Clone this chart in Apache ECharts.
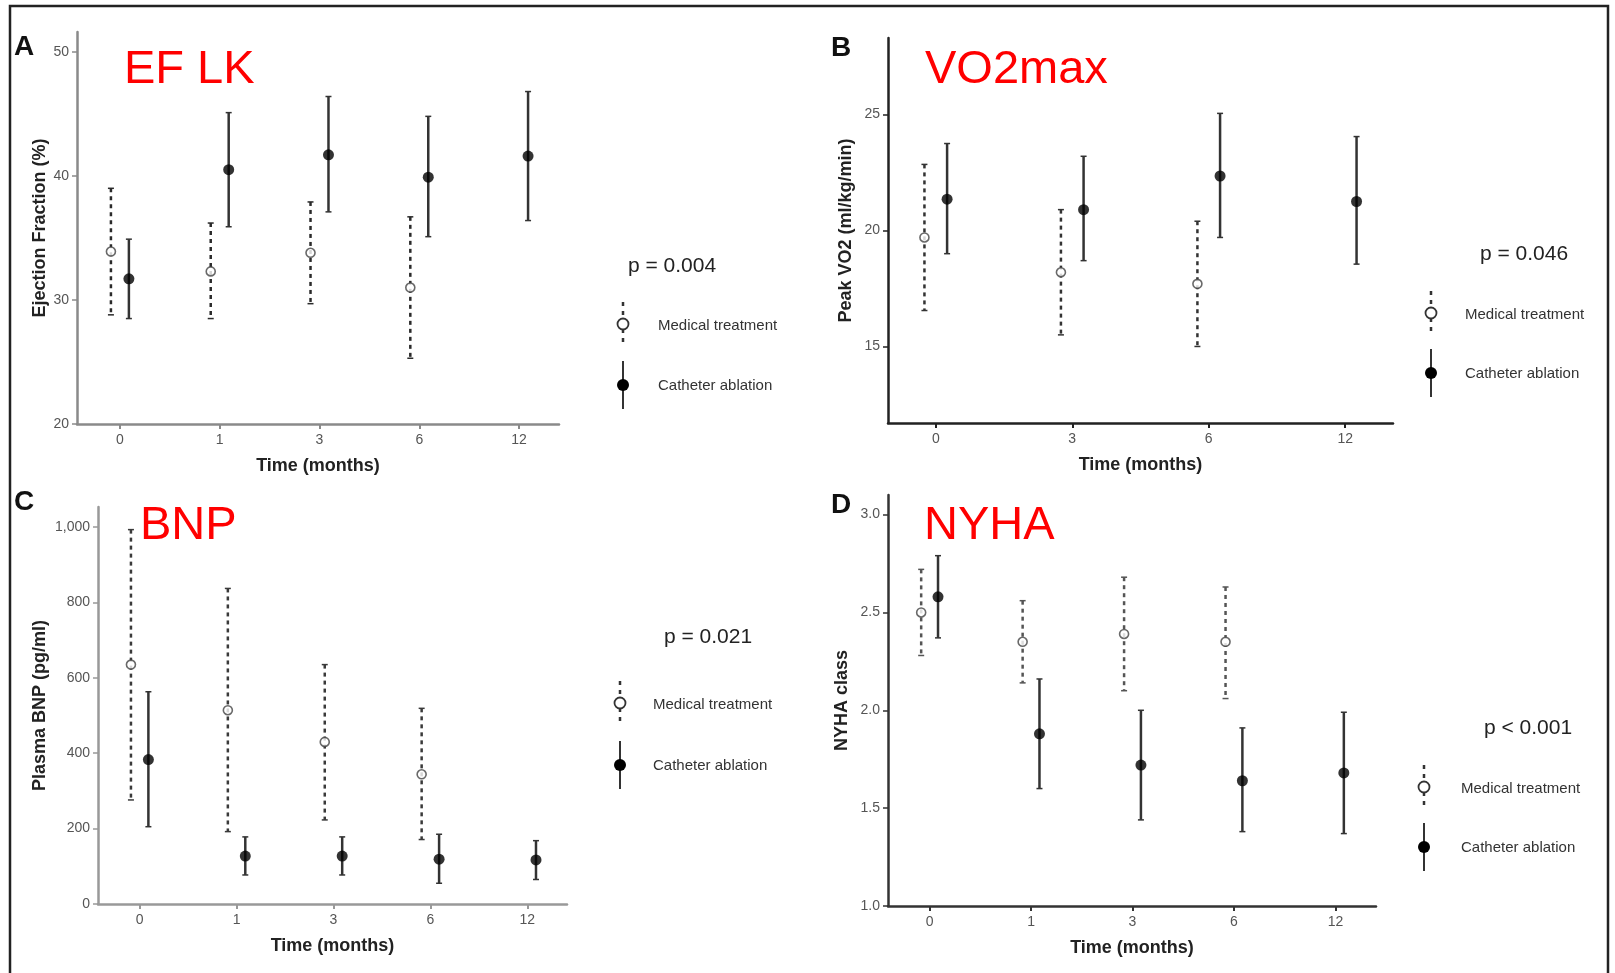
<!DOCTYPE html>
<html>
<head>
<meta charset="utf-8">
<script src="https://cdn.jsdelivr.net/npm/echarts@6/dist/echarts.min.js"></script>
<style>
  html, body { margin: 0; padding: 0; background: #fff; }
  #chart { width: 1615px; height: 973px; }
</style>
</head>
<body>
<div id="chart"></div>
<script>
// time points (x categories)
const times5 = ['0', '1', '3', '6', '12'];
const times4 = ['0', '3', '6', '12'];

// A - ejection fraction (%)
const efMedMean = [33.9, 32.3, 33.8, 31.0];
const efMedLow  = [28.8, 28.5, 29.7, 25.3];
const efMedHigh = [39.0, 36.2, 37.9, 36.7];
const efAblMean = [31.7, 40.5, 41.7, 39.9, 41.6];
const efAblLow  = [28.5, 35.9, 37.1, 35.1, 36.4];
const efAblHigh = [34.9, 45.1, 46.4, 44.8, 46.8];
const efTicks = [20, 30, 40, 50];

// B - peak VO2 (medical measured at 0, 3, 6)
const vo2MedMean = [19.7, 18.2, 17.7];
const vo2MedLow  = [16.55, 15.5, 15.0];
const vo2MedHigh = [22.85, 20.9, 20.4];
const vo2AblMean = [21.35, 20.9, 22.35, 21.25];
const vo2AblLow  = [19.0, 18.7, 19.7, 18.55];
const vo2AblHigh = [23.75, 23.2, 25.05, 24.05];
const vo2Ticks = [15, 20, 25];

// C - plasma BNP
const bnpMedMean = [635, 514, 430, 344];
const bnpMedLow  = [276, 192, 223, 171];
const bnpMedHigh = [993, 837, 635, 519];
const bnpAblMean = [383, 127, 127, 119, 117];
const bnpAblLow  = [205, 77, 77, 55, 65];
const bnpAblHigh = [563, 178, 178, 185, 168];
const bnpTicks = [0, 200, 400, 600, 800, 1000];

// D - NYHA class
const nyhaMedMean = [2.50, 2.35, 2.39, 2.35];
const nyhaMedLow  = [2.28, 2.14, 2.10, 2.06];
const nyhaMedHigh = [2.72, 2.56, 2.68, 2.63];
const nyhaAblMean = [2.58, 1.88, 1.72, 1.64, 1.68];
const nyhaAblLow  = [2.37, 1.60, 1.44, 1.38, 1.37];
const nyhaAblHigh = [2.79, 2.16, 2.00, 1.91, 1.99];
const nyhaTicks = [1.0, 1.5, 2.0, 2.5, 3.0];

const panelLetters = ['A', 'B', 'C', 'D'];
const panelTitles = ['EF LK', 'VO2max', 'BNP', 'NYHA'];
const yNames = ['Ejection Fraction (%)', 'Peak VO2 (ml/kg/min)', 'Plasma BNP (pg/ml)', 'NYHA class'];
const pValues = ['p = 0.004', 'p = 0.046', 'p = 0.021', 'p < 0.001'];
const legendNames = ['Medical treatment', 'Catheter ablation'];

const FONT = '"Liberation Sans", Arial, sans-serif';

// layout of each panel
const panels = [
  { grid: { left: 77, top: 32, width: 482, height: 392 }, xr: [-0.43, 4.4], yr: [20, 51.6],
    times: times5, yTicks: efTicks, fmt: v => String(v), axisColor: '#8a8a8a', dodge: 0.09, yGap: 28,
    letter: [24, 47], title: [124, 70], p: [672, 266], leg: { x: 623, med: 324, abl: 385, tx: 658 },
    med: [efMedMean, efMedLow, efMedHigh], abl: [efAblMean, efAblLow, efAblHigh], medColor: '#2a2a2a' },
  { grid: { left: 888, top: 38, width: 505, height: 385 }, xr: [-0.35, 3.35], yr: [11.7, 28.3],
    times: times4, yTicks: vo2Ticks, fmt: v => String(v), axisColor: '#222', dodge: 0.083, yGap: 33,
    letter: [841, 48], title: [925, 70], p: [1524, 254], leg: { x: 1431, med: 313, abl: 373, tx: 1465 },
    med: [vo2MedMean, vo2MedLow, vo2MedHigh], abl: [vo2AblMean, vo2AblLow, vo2AblHigh], medColor: '#333' },
  { grid: { left: 98, top: 507, width: 469, height: 397 }, xr: [-0.43, 4.41], yr: [0, 1053],
    times: times5, yTicks: bnpTicks, fmt: v => v.toLocaleString('en-US'), axisColor: '#999', dodge: 0.09, yGap: 49,
    letter: [24, 502], title: [140, 526], p: [708, 637], leg: { x: 620, med: 703, abl: 765, tx: 653 },
    med: [bnpMedMean, bnpMedLow, bnpMedHigh], abl: [bnpAblMean, bnpAblLow, bnpAblHigh], medColor: '#3a3a3a' },
  { grid: { left: 888, top: 495, width: 488, height: 411 }, xr: [-0.41, 4.4], yr: [1.0, 3.1],
    times: times5, yTicks: nyhaTicks, fmt: v => v.toFixed(1), axisColor: '#333', dodge: 0.083, yGap: 37,
    letter: [841, 505], title: [924, 526], p: [1528, 728], leg: { x: 1424, med: 787, abl: 847, tx: 1461 },
    med: [nyhaMedMean, nyhaMedLow, nyhaMedHigh], abl: [nyhaAblMean, nyhaAblLow, nyhaAblHigh], medColor: '#555' }
];

function errorBars(idx, rows, dashed, color) {
  return {
    type: 'custom',
    xAxisIndex: idx, yAxisIndex: idx,
    encode: { x: 0, y: [1, 2] },
    data: rows,
    z: 2,
    renderItem: function (params, api) {
      const x = api.value(0);
      const top = api.coord([x, api.value(2)]);
      const bot = api.coord([x, api.value(1)]);
      return {
        type: 'group',
        children: [
          { type: 'line', shape: { x1: top[0], y1: top[1], x2: bot[0], y2: bot[1] },
            style: { stroke: color, lineWidth: 2.5, lineDash: dashed ? [4, 4] : null } },
          { type: 'line', shape: { x1: top[0] - 3, y1: top[1], x2: top[0] + 3, y2: top[1] },
            style: { stroke: color, lineWidth: 1.5 } },
          { type: 'line', shape: { x1: bot[0] - 3, y1: bot[1], x2: bot[0] + 3, y2: bot[1] },
            style: { stroke: color, lineWidth: 1.5 } }
        ]
      };
    }
  };
}

const grids = [], xAxes = [], yAxes = [], series = [], graphics = [];

// outer frame
graphics.push({ type: 'rect', shape: { x: 10, y: 6, width: 1598, height: 990 },
  style: { fill: null, stroke: '#222', lineWidth: 2.5 }, silent: true });

panels.forEach(function (pn, i) {
  grids.push(Object.assign({ outerBoundsMode: 'none' }, pn.grid));
  const tickIdx = pn.times.map((t, k) => k);
  xAxes.push({
    type: 'value', gridIndex: i, min: pn.xr[0], max: pn.xr[1],
    name: 'Time (months)', nameLocation: 'middle', nameGap: 33, nameMoveOverlap: false,
    nameTextStyle: { fontFamily: FONT, fontWeight: 'bold', fontSize: 18, color: '#222' },
    axisLine: { show: true, onZero: false, lineStyle: { color: pn.axisColor, width: 2.5 } },
    axisTick: { show: true, length: 5, customValues: tickIdx, lineStyle: { color: pn.axisColor, width: 2 } },
    axisLabel: { customValues: tickIdx, formatter: v => pn.times[Math.round(v)], margin: 9,
      fontFamily: FONT, fontSize: 14, color: '#555' },
    splitLine: { show: false }
  });
  yAxes.push({
    type: 'value', gridIndex: i, min: pn.yr[0], max: pn.yr[1],
    name: yNames[i], nameLocation: 'middle', nameGap: pn.yGap, nameMoveOverlap: false,
    nameTextStyle: { fontFamily: FONT, fontWeight: 'bold', fontSize: 18, color: '#222' },
    axisLine: { show: true, onZero: false, lineStyle: { color: pn.axisColor, width: 2.5 } },
    axisTick: { show: true, length: 5, customValues: pn.yTicks, lineStyle: { color: pn.axisColor, width: 1.5 } },
    axisLabel: { customValues: pn.yTicks, formatter: pn.fmt, margin: 8,
      fontFamily: FONT, fontSize: 14, color: '#555' },
    splitLine: { show: false }
  });

  const medRows = pn.med[0].map((m, k) => [k - pn.dodge, pn.med[1][k], pn.med[2][k]]);
  const ablRows = pn.abl[0].map((m, k) => [k + pn.dodge, pn.abl[1][k], pn.abl[2][k]]);
  series.push(errorBars(i, medRows, true, pn.medColor));
  series.push(errorBars(i, ablRows, false, '#333'));
  series.push({
    type: 'scatter', name: legendNames[0], xAxisIndex: i, yAxisIndex: i, z: 3,
    symbol: 'circle', symbolSize: 9,
    itemStyle: { color: '#fff', borderColor: '#444', borderWidth: 1.6 },
    data: pn.med[0].map((m, k) => [k - pn.dodge, m])
  });
  series.push({
    type: 'scatter', name: legendNames[1], xAxisIndex: i, yAxisIndex: i, z: 3,
    symbol: 'circle', symbolSize: 11,
    itemStyle: { color: '#000' },
    data: pn.abl[0].map((m, k) => [k + pn.dodge, m])
  });

  // panel letter, red title, p value
  graphics.push({ type: 'text', x: pn.letter[0], y: pn.letter[1],
    style: { text: panelLetters[i], font: 'bold 28px ' + FONT, fill: '#111', align: 'center', verticalAlign: 'middle' } });
  graphics.push({ type: 'text', x: pn.title[0], y: pn.title[1],
    style: { text: panelTitles[i], font: '47px ' + FONT, fill: '#ff0000', align: 'left', verticalAlign: 'middle' } });
  graphics.push({ type: 'text', x: pn.p[0], y: pn.p[1],
    style: { text: pValues[i], font: '21px ' + FONT, fill: '#222', align: 'center', verticalAlign: 'middle' } });

  // legend: medical (dashed bar, open circle), ablation (solid bar, filled circle)
  const L = pn.leg;
  graphics.push({ type: 'line', shape: { x1: L.x, y1: L.med - 22, x2: L.x, y2: L.med + 22 },
    style: { stroke: '#333', lineWidth: 2.5, lineDash: [4, 5] } });
  graphics.push({ type: 'circle', shape: { cx: L.x, cy: L.med, r: 5.5 },
    style: { fill: '#fff', stroke: '#333', lineWidth: 1.8 } });
  graphics.push({ type: 'text', x: L.tx, y: L.med + 2,
    style: { text: legendNames[0], font: '15px ' + FONT, fill: '#333', verticalAlign: 'middle' } });
  graphics.push({ type: 'line', shape: { x1: L.x, y1: L.abl - 24, x2: L.x, y2: L.abl + 24 },
    style: { stroke: '#333', lineWidth: 2 } });
  graphics.push({ type: 'circle', shape: { cx: L.x, cy: L.abl, r: 6 },
    style: { fill: '#000' } });
  graphics.push({ type: 'text', x: L.tx, y: L.abl + 1,
    style: { text: legendNames[1], font: '15px ' + FONT, fill: '#333', verticalAlign: 'middle' } });
});

const myChart = echarts.init(document.getElementById('chart'), null, { renderer: 'canvas' });
myChart.setOption({
  backgroundColor: '#fff',
  animation: false,
  grid: grids,
  xAxis: xAxes,
  yAxis: yAxes,
  series: series,
  graphic: graphics
});
</script>
</body>
</html>
